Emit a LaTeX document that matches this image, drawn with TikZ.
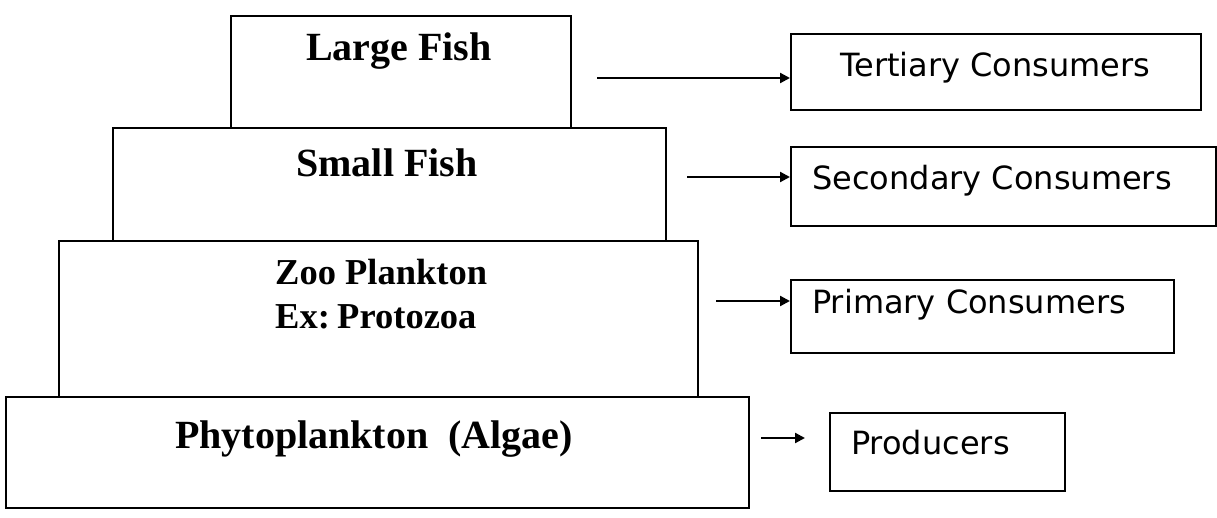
\documentclass[tikz,border=0pt]{standalone}
\usepackage{fontspec}
\setmainfont{Liberation Serif}
\newfontfamily\labfont{DejaVu Sans}
\usetikzlibrary{arrows.meta}
\begin{document}
\begin{tikzpicture}[x=1pt,y=-1pt,
  box/.style={draw, line width=1.9pt, inner sep=0pt, anchor=north west},
  rbox/.style={draw, line width=1.9pt, inner sep=0pt, anchor=north west},
  ptext/.style={font=\fontsize{40}{46}\selectfont\bfseries, inner sep=0pt},
  ztext/.style={font=\fontsize{36.5}{42}\selectfont\bfseries, inner sep=0pt, anchor=base west},
  rtext/.style={font=\labfont\fontsize{32}{38}\selectfont, inner sep=0pt, anchor=base west},
  arr/.style={line width=2.2pt, -{Triangle[length=10pt,width=10pt]}}]
\useasboundingbox (0,0) rectangle (1217,518);
% pyramid boxes
\node[box, minimum width=340pt, minimum height=112pt] (large) at (230,15) {};
\node[box, minimum width=553pt, minimum height=113pt] (small) at (112,127) {};
\node[box, minimum width=639pt, minimum height=156pt] (zoo) at (58,240) {};
\node[box, minimum width=743pt, minimum height=111pt] (phyto) at (5,396) {};
% pyramid texts
\node[ptext, anchor=base] (tlarge) at (399,61) {Large Fish};
\node[ptext, anchor=base] (tsmall) at (387,177) {Small Fish};
\node[ztext] (tzoo1) at (275,285) {Zoo Plankton};
\node[ztext] (tzoo2) at (275,328) {Ex:\hspace{0.2em}Protozoa};
\node[ptext, anchor=base] (tphyto) at (374,448) {Phytoplankton\hspace{0.5em}(Algae)};
% right boxes
\node[rbox, minimum width=410pt, minimum height=76pt] (tert) at (790,33) {};
\node[rbox, minimum width=425pt, minimum height=79pt] (sec) at (790,146) {};
\node[rbox, minimum width=383pt, minimum height=73pt] (prim) at (790,279) {};
\node[rbox, minimum width=235pt, minimum height=78pt] (prod) at (829,412) {};
% right texts
\node[rtext] (ttert) at (840,77) {Tertiary Consumers};
\node[rtext] (tsec) at (812,190) {Secondary Consumers};
\node[rtext] (tprim) at (812,314) {Primary Consumers};
\node[rtext] (tprod) at (851,454) {Producers};
% arrows
\coordinate (a1) at (597,78);
\coordinate (a2) at (687,177);
\coordinate (a3) at (716,301);
\coordinate (a4) at (761,438);
\coordinate (a4e) at (805,438);
\draw[arr] (a1) -- (a1 -| tert.west);
\draw[arr] (a2) -- (a2 -| sec.west);
\draw[arr] (a3) -- (a3 -| prim.west);
\draw[arr] (a4) -- (a4e);
\end{tikzpicture}
\end{document}
